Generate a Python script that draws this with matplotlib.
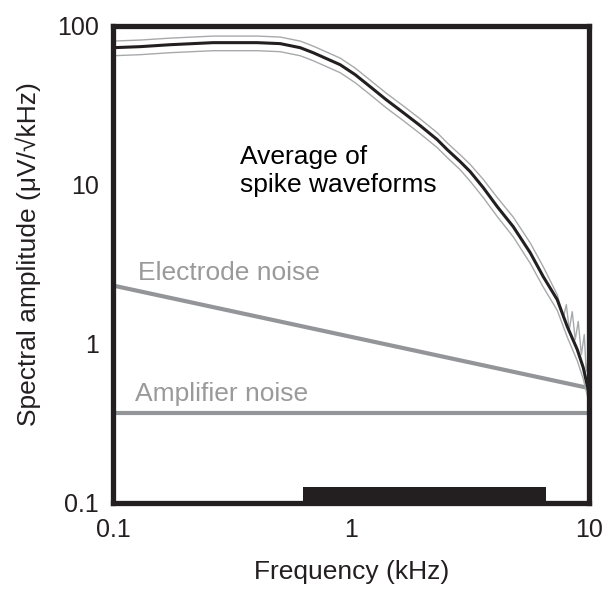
import numpy as np
import matplotlib.pyplot as plt

plt.rcParams['font.family'] = ['Liberation Sans', 'DejaVu Sans']

# average spike spectrum (kHz, uV/sqrt(kHz))
freq = [0.1, 0.1299, 0.1736, 0.2632, 0.4027, 0.5031, 0.6107, 0.6923, 0.899,
        1.039, 1.202, 1.404, 1.654, 1.950, 2.298, 2.532, 2.871, 3.162, 3.586,
        4.107, 4.794, 5.650, 6.407, 7.337, 8.083, 8.906, 9.436, 10.0]
spike_avg = [72.7, 73.8, 75.9, 78.2, 78.2, 77.1, 72.7, 67.6, 56.8,
             49.2, 41.3, 34.2, 28.4, 23.5, 19.2, 16.6, 13.95, 12.07, 9.58,
             7.27, 5.44, 3.73, 2.64, 1.89, 1.28, 0.917, 0.707, 0.478]

# upper gray trace (gets noisy towards 10 kHz)
freq_hi = [0.1, 0.1299, 0.1736, 0.2632, 0.4027, 0.5031, 0.6107, 0.6923, 0.899,
           1.039, 1.202, 1.404, 1.654, 1.950, 2.298, 2.532, 2.871, 3.162, 3.586,
           4.107, 4.794, 5.650, 6.407, 7.337, 7.78, 8.01, 8.24, 8.48, 8.73,
           8.99, 9.26, 9.53, 9.71, 9.90, 10.0]
spike_hi = [80.0, 81.2, 83.5, 86.0, 86.0, 84.8, 80.0, 74.4, 62.5,
            54.1, 45.4, 37.6, 31.3, 25.9, 21.2, 18.3, 15.4, 13.4, 10.8,
            8.3, 6.25, 4.3, 3.05, 2.03, 1.46, 1.76, 1.22, 1.59, 1.06,
            1.38, 0.853, 1.14, 0.667, 0.793, 0.499]

# lower gray trace
freq_lo = freq
spike_lo = [64.7, 65.7, 67.6, 69.6, 69.6, 68.6, 64.7, 60.2, 50.6,
            43.8, 36.8, 30.4, 25.3, 20.9, 17.1, 14.8, 12.4, 10.5, 8.3,
            6.3, 4.7, 3.2, 2.27, 1.62, 1.10, 0.78, 0.60, 0.42]

electrode_x = [0.1, 10.0]
electrode_y = [2.32, 0.525]
amplifier_x = [0.1, 10.0]
amplifier_y = [0.365, 0.365]

band = [0.63, 6.6]       # kHz
band_y = [0.1, 0.126]

black = '#231f20'
gray = '#939598'

fig = plt.figure(figsize=(6.05, 5.97), dpi=100)
ax = fig.add_axes([0.187, 0.158, 0.787, 0.799])

ax.plot(electrode_x, electrode_y, color=gray, lw=3.0, solid_capstyle='butt')
ax.plot(amplifier_x, amplifier_y, color=gray, lw=3.0, solid_capstyle='butt')
ax.plot(freq_hi, spike_hi, color='#a7a9ac', lw=1.0)
ax.plot(freq_lo, spike_lo, color='#a7a9ac', lw=1.0)
ax.plot(freq, spike_avg, color=black, lw=2.2)
ax.fill_between(band, band_y[0], band_y[1], color=black, lw=0)

ax.set_xscale('log')
ax.set_yscale('log')
ax.set_xlim(0.1, 10)
ax.set_ylim(0.1, 100)
ax.set_xticks([0.1, 1, 10])
ax.set_xticklabels(['0.1', '1', '10'])
ax.set_yticks([0.1, 1, 10, 100])
ax.set_yticklabels(['0.1', '1', '10', '100'])
ax.minorticks_off()
ax.tick_params(length=0, labelsize=18, labelcolor=black)
ax.tick_params(axis='x', pad=11)
ax.tick_params(axis='y', pad=10)
for s in ax.spines.values():
    s.set_linewidth(3.8)
    s.set_color(black)

ax.set_xlabel('Frequency (kHz)', fontsize=19, color=black, labelpad=13)
ax.set_ylabel('Spectral amplitude (\u03bcV/\u221akHz)', fontsize=19,
              color=black, labelpad=12)
ax.yaxis.label.set_y(0.522)

ax.text(0.342, 12.2, 'Average of\nspike waveforms', fontsize=19, color='black',
        va='center', ha='left', linespacing=1.2)
ax.text(0.127, 2.8, 'Electrode noise', fontsize=19, color='#9a9a9a',
        va='center', ha='left')
ax.text(0.1237, 0.48, 'Amplifier noise', fontsize=19, color='#9a9a9a',
        va='center', ha='left')

fig.savefig('out.png', dpi=100)
